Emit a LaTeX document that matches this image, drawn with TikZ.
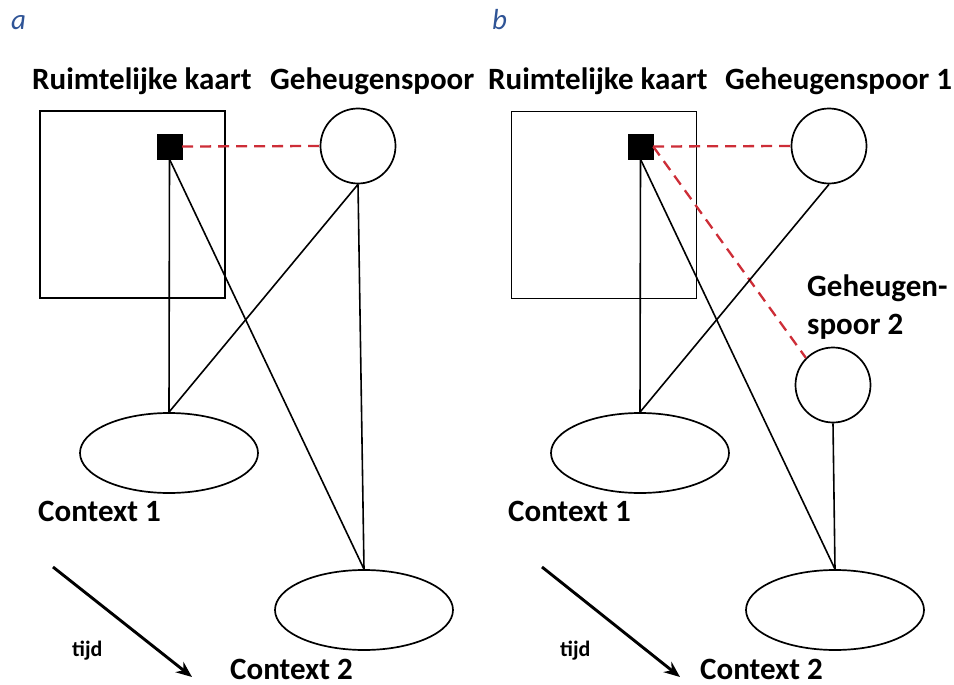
\documentclass[tikz,border=0pt]{standalone}
\usepackage{fontspec}
\setmainfont{Carlito}
\usetikzlibrary{shapes.geometric,arrows.meta}
\definecolor{panelblue}{RGB}{47,84,150}
\definecolor{linkred}{RGB}{205,45,55}
\tikzset{
  lbl/.style={font=\fontsize{31}{38}\selectfont\bfseries, inner sep=0pt, anchor=base west},
  tijdlbl/.style={font=\fontsize{22}{26}\selectfont\bfseries, inner sep=0pt, anchor=base west},
  panel/.style={font=\fontsize{29}{32}\selectfont\itshape, text=panelblue, inner sep=0pt, anchor=base west},
  mapbox/.style={draw, line width=1.7pt, minimum width=185pt, minimum height=187pt, inner sep=0pt},
  place/.style={draw, fill=black, minimum size=25pt, inner sep=0pt},
  trace/.style={draw, circle, line width=1.7pt, minimum size=75pt, inner sep=0pt},
  ctx/.style={draw, ellipse, line width=1.7pt, minimum width=178pt, minimum height=80pt, inner sep=0pt},
  link/.style={line width=1.6pt},
  assoc/.style={draw=linkred, line width=2.3pt, dash pattern=on 11pt off 7pt},
  timearrow/.style={line width=2.9pt, -{Stealth[length=16pt,width=13pt]}}
}
\begin{document}
\begin{tikzpicture}[x=1pt,y=-1pt]
\useasboundingbox (0,0) rectangle (954,685);
% ---------- panel a ----------
\node[panel] (pa) at (11,30) {a};
\node[lbl] (rka) at (32,90) {Ruimtelijke kaart};
\node[lbl] (gsa) at (270,89) {Geheugenspoor};
\node[mapbox] (boxa) at (132.5,204.5) {};
\node[place] (sqa) at (169.5,146.5) {};
\node[trace] (ca) at (358,146) {};
\node[ctx] (e1a) at (169,453) {};
\node[ctx] (e2a) at (364,610) {};
\node[lbl] (c1a) at (38,521) {Context 1};
\node[lbl] (c2a) at (230,679) {Context 2};
\node[tijdlbl] (ta) at (72,656) {tijd};
\coordinate (tas) at (53,567);
\coordinate (tae) at (192,677);
\draw[assoc] (sqa.east) -- (ca.west);
\draw[link] (sqa.south) -- (e1a.north);
\draw[link] (sqa.south) -- (e2a.north);
\draw[link] (ca.south) -- (e1a.north);
\draw[link] (ca.south) -- (e2a.north);
\draw[timearrow] (tas) -- (tae);
% ---------- panel b ----------
\node[panel] (pb) at (492,30) {b};
\node[lbl] (rkb) at (488,90) {Ruimtelijke kaart};
\node[lbl] (gsb) at (725,89) {Geheugenspoor 1};
\node[mapbox] (boxb) at (604,205) {};
\node[place] (sqb) at (640.5,146.5) {};
\node[trace] (cb1) at (829,146) {};
\node[trace] (cb2) at (833,385) {};
\node[ctx] (e1b) at (640,453) {};
\node[ctx] (e2b) at (835,610) {};
\node[lbl] (gs2a) at (807,296) {Geheugen-};
\node[lbl] (gs2b) at (807,334) {spoor 2};
\node[lbl] (c1b) at (508,521) {Context 1};
\node[lbl] (c2b) at (700,679) {Context 2};
\node[tijdlbl] (tb) at (560,656) {tijd};
\coordinate (tbs) at (542,567);
\coordinate (tbe) at (680,677);
\draw[assoc] (sqb.east) -- (cb1.west);
\draw[assoc] (sqb.east) -- (cb2.135);
\draw[link] (sqb.south) -- (e1b.north);
\draw[link] (sqb.south) -- (e2b.north);
\draw[link] (cb1.south) -- (e1b.north);
\draw[link] (cb2.south) -- (e2b.north);
\draw[timearrow] (tbs) -- (tbe);
\end{tikzpicture}
\end{document}
